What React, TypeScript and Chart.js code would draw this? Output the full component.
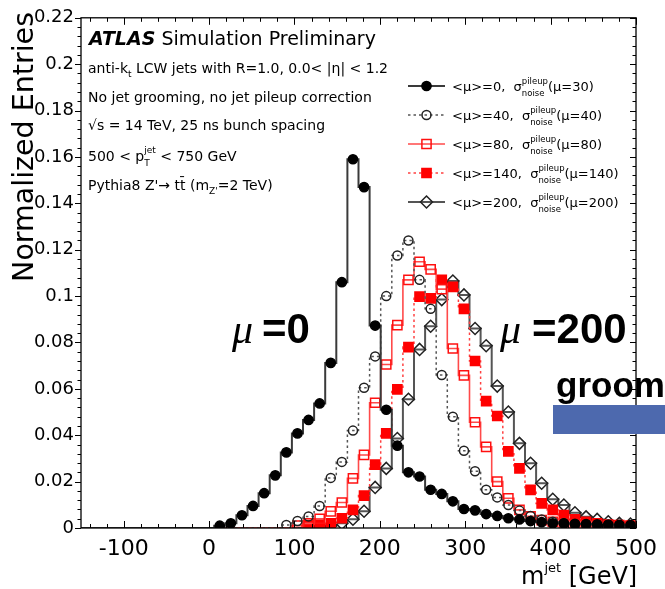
import React, { useEffect, useRef } from "react";
import { Chart, registerables } from "chart.js";

Chart.register(...registerables);

// ---------------- data ----------------
const binCenters = [
  -143.5, -130.5, -117.5, -104.5, -91.5, -78.5, -65.5, -52.5, -39.5, -26.5,
  -13.5, -0.5, 12.5, 25.5, 38.5, 51.5, 64.5, 77.5, 90.5, 103.5,
  116.5, 129.5, 142.5, 155.5, 168.5, 181.5, 194.5, 207.5, 220.5, 233.5,
  246.5, 259.5, 272.5, 285.5, 298.5, 311.5, 324.5, 337.5, 350.5, 363.5,
  376.5, 389.5, 402.5, 415.5, 428.5, 441.5, 454.5, 467.5, 480.5, 493.5,
];
const histLow = -150;
const histHigh = 500;

const mu0 = [
  0, 0, 0, 0, 0, 0, 0, 0, 0, 0,
  0, 0, 0.001, 0.002, 0.0055, 0.0095, 0.015, 0.0227, 0.0326, 0.0408,
  0.0466, 0.0537, 0.0712, 0.106, 0.159, 0.147, 0.0873, 0.051, 0.0355, 0.024,
  0.0222, 0.0165, 0.0147, 0.0115, 0.0082, 0.0076, 0.006, 0.0052, 0.0042, 0.0037,
  0.003, 0.0025, 0.002, 0.002, 0.0018, 0.0017, 0.0016, 0.0015, 0.0014, 0.0013,
];
const mu40 = [
  0, 0, 0, 0, 0, 0, 0, 0, 0, 0,
  0, 0, 0, 0, 0, 0, 0, 0, 0.0013, 0.003,
  0.005, 0.0095, 0.0216, 0.0285, 0.042, 0.0605, 0.074, 0.1, 0.1175, 0.124,
  0.107, 0.0945, 0.066, 0.048, 0.0333, 0.0245, 0.0165, 0.0132, 0.0099, 0.0075,
  0.0052, 0.0037, 0.0027, 0.002, 0.0015, 0.0012, 0.001, 0.0008, 0.0006, 0.0005,
];
const mu80 = [
  0, 0, 0, 0, 0, 0, 0, 0, 0, 0,
  0, 0, 0, 0, 0, 0, 0, 0, 0, 0.001,
  0.002, 0.004, 0.0072, 0.011, 0.0214, 0.0315, 0.054, 0.0705, 0.0875, 0.107,
  0.1148, 0.1115, 0.103, 0.0774, 0.0658, 0.0456, 0.035, 0.02, 0.0128, 0.0078,
  0.005, 0.0034, 0.0027, 0.002, 0.0015, 0.0012, 0.001, 0.0008, 0.0006, 0.0005,
];
const mu140 = [
  0, 0, 0, 0, 0, 0, 0, 0, 0, 0,
  0, 0, 0, 0, 0, 0, 0, 0, 0, 0,
  0.0013, 0.0015, 0.002, 0.0042, 0.0078, 0.014, 0.0273, 0.0408, 0.0598, 0.078,
  0.0998, 0.099, 0.107, 0.104, 0.0945, 0.072, 0.0547, 0.0483, 0.033, 0.0257,
  0.0164, 0.0106, 0.0078, 0.0056, 0.0037, 0.0027, 0.002, 0.0015, 0.0012, 0.001,
];
const mu200 = [
  0, 0, 0, 0, 0, 0, 0, 0, 0, 0,
  0, 0, 0, 0, 0, 0, 0, 0, 0, 0,
  0, 0.0005, 0.001, 0.002, 0.0038, 0.0072, 0.0175, 0.0257, 0.0386, 0.0555,
  0.077, 0.087, 0.0985, 0.1065, 0.1005, 0.086, 0.0786, 0.0612, 0.05, 0.0365,
  0.0279, 0.0193, 0.0124, 0.0099, 0.0066, 0.0048, 0.0037, 0.0027, 0.002, 0.0017,
];

const xTickLabels = ["-100", "0", "100", "200", "300", "400", "500"];
const yTickLabels = ["0", "0.02", "0.04", "0.06", "0.08", "0.1", "0.12", "0.14", "0.16", "0.18", "0.2", "0.22"];

const legendMu = ["<μ>=0,", "<μ>=40,", "<μ>=80,", "<μ>=140,", "<μ>=200,"];
const legendNoise = ["(μ=30)", "(μ=40)", "(μ=80)", "(μ=140)", "(μ=200)"];

const yTitle = "Normalized Entries";
const FONT = "'DejaVu Sans'";

// ---------------- styles ----------------
type SeriesStyle = {
  line: string;
  dash: number[];
  width: number;
  marker: "circle" | "rect" | "rectRot";
  fill: string;
  stroke: string;
  radius: number;
};
const styles: SeriesStyle[] = [
  { line: "#3a3a3a", dash: [], width: 2, marker: "circle", fill: "#000", stroke: "#000", radius: 4.6 },
  { line: "#555", dash: [2.5, 3], width: 1.5, marker: "circle", fill: "rgba(255,255,255,0)", stroke: "#222", radius: 4.5 },
  { line: "#ff4a4a", dash: [], width: 1.6, marker: "rect", fill: "rgba(255,255,255,0)", stroke: "#ff1010", radius: 6.5 },
  { line: "#ff4040", dash: [2.5, 3], width: 1.5, marker: "rect", fill: "#ff0000", stroke: "#ff0000", radius: 6.5 },
  { line: "#555", dash: [], width: 2, marker: "rectRot", fill: "rgba(255,255,255,0)", stroke: "#222", radius: 6 },
];
const seriesValues = [mu0, mu40, mu80, mu140, mu200];

// ---------------- overlay helpers ----------------
type Part = { t: string; size?: number; dy?: number; style?: string; stack?: [string, string] };

function drawRich(ctx: CanvasRenderingContext2D, x: number, y: number, parts: Part[], base: number) {
  let cx = x;
  for (const p of parts) {
    const size = p.size ?? base;
    ctx.font = `${p.style ?? ""} ${size}px ${FONT}`;
    if (p.stack) {
      ctx.fillText(p.stack[0], cx, y - base * 0.55);
      ctx.fillText(p.stack[1], cx, y + base * 0.35);
      cx += Math.max(ctx.measureText(p.stack[0]).width, ctx.measureText(p.stack[1]).width);
    } else {
      ctx.fillText(p.t, cx, y + (p.dy ?? 0));
      cx += ctx.measureText(p.t).width;
    }
  }
  return cx;
}

function drawMarker(ctx: CanvasRenderingContext2D, s: SeriesStyle, x: number, y: number) {
  ctx.save();
  ctx.fillStyle = s.fill;
  ctx.strokeStyle = s.stroke;
  ctx.lineWidth = 1.5;
  ctx.setLineDash([]);
  ctx.beginPath();
  if (s.marker === "circle") {
    ctx.arc(x, y, s.radius, 0, Math.PI * 2);
  } else if (s.marker === "rect") {
    const h = s.radius * Math.SQRT1_2;
    ctx.rect(x - h, y - h, 2 * h, 2 * h);
  } else {
    const r = s.radius;
    ctx.moveTo(x, y - r);
    ctx.lineTo(x + r, y);
    ctx.lineTo(x, y + r);
    ctx.lineTo(x - r, y);
    ctx.closePath();
  }
  ctx.fill();
  ctx.stroke();
  ctx.restore();
}

const overlayPlugin = {
  id: "atlasOverlay",
  afterDraw(chart: any) {
    const ctx: CanvasRenderingContext2D = chart.ctx;
    const { left, right, top, bottom } = chart.chartArea;
    const xs = chart.scales.x;
    const ys = chart.scales.y;
    ctx.save();

    // frame
    ctx.strokeStyle = "#000";
    ctx.lineWidth = 1.3;
    ctx.setLineDash([]);
    ctx.strokeRect(left, top, right - left, bottom - top);

    // ticks
    ctx.lineWidth = 1;
    ctx.beginPath();
    for (let i = 0; i <= 55; i++) {
      const v = i * 0.004;
      const py = Math.round(ys.getPixelForValue(v)) + 0.5;
      const major = i % 5 === 0;
      const L = major ? 6 : 3.5;
      ctx.moveTo(left - L, py);
      ctx.lineTo(left, py);
      ctx.moveTo(right, py);
      ctx.lineTo(right - L, py);
    }
    for (let v = -140; v <= 500; v += 20) {
      const px = Math.round(xs.getPixelForValue(v)) + 0.5;
      const major = v % 100 === 0;
      const L = major ? 7 : 4;
      ctx.moveTo(px, bottom);
      ctx.lineTo(px, bottom - L);
      ctx.moveTo(px, top);
      ctx.lineTo(px, top + L);
    }
    ctx.stroke();

    // y title
    ctx.fillStyle = "#000";
    ctx.save();
    ctx.translate(33, 12);
    ctx.rotate(-Math.PI / 2);
    ctx.font = `28.5px ${FONT}`;
    ctx.textAlign = "right";
    ctx.textBaseline = "alphabetic";
    ctx.fillText(yTitle, 0, 0);
    ctx.restore();

    // x title
    ctx.textAlign = "left";
    ctx.textBaseline = "alphabetic";
    drawRich(ctx, 521, 584, [
      { t: "m", size: 24 },
      { t: "jet", size: 13, dy: -12 },
      { t: " [GeV]", size: 24 },
    ], 24);

    // ATLAS block
    ctx.font = `bold italic 19px ${FONT}`;
    ctx.fillText("ATLAS", 89, 45);
    const aw = ctx.measureText("ATLAS").width;
    ctx.font = `19px ${FONT}`;
    ctx.fillText(" Simulation Preliminary", 89 + aw, 45);

    const b = 14;
    drawRich(ctx, 88, 73, [
      { t: "anti-k" },
      { t: "t", size: 9, dy: 4 },
      { t: " LCW jets with R=1.0, 0.0< |η| < 1.2" },
    ], b);
    drawRich(ctx, 88, 102, [{ t: "No jet grooming, no jet pileup correction" }], b);
    drawRich(ctx, 88, 130, [{ t: "√s = 14 TeV, 25 ns bunch spacing" }], b);
    drawRich(ctx, 88, 161, [
      { t: "500 < p" },
      { t: "", size: 9, stack: ["jet", "T"] },
      { t: " < 750 GeV" },
    ], b);
    drawRich(ctx, 88, 190, [
      { t: "Pythia8 Z'→ tt̄ (m" },
      { t: "Z'", size: 9, dy: 4 },
      { t: "=2 TeV)" },
    ], b);

    // legend
    const legY = [86, 115, 144, 173, 202];
    for (let i = 0; i < 5; i++) {
      const s = styles[i];
      const y = legY[i];
      ctx.save();
      ctx.strokeStyle = s.line;
      ctx.lineWidth = s.width;
      ctx.setLineDash(s.dash);
      ctx.beginPath();
      ctx.moveTo(408, y);
      ctx.lineTo(445, y);
      ctx.stroke();
      ctx.restore();
      drawMarker(ctx, s, 426.5, y);
      ctx.fillStyle = "#000";
      drawRich(ctx, 452, y + 5, [
        { t: legendMu[i] + "  σ" },
        { t: "", size: 8.5, stack: ["pileup", "noise"] },
        { t: legendNoise[i] },
      ], 13);
    }

    // big mu labels
    ctx.fillStyle = "#000";
    ctx.font = `italic 42px 'Liberation Serif'`;
    ctx.fillText("μ", 232, 343);
    ctx.fillText("μ", 500, 343);
    ctx.font = `bold 42px 'Liberation Sans'`;
    ctx.fillText("=0", 262, 343);
    ctx.fillText("=200", 532, 343);

    // groom label + blue bar
    ctx.font = `bold 35px 'Liberation Sans'`;
    ctx.fillText("groom", 556, 397);
    ctx.fillStyle = "#4d69ae";
    ctx.fillRect(553, 405, 665 - 553, 29);

    ctx.restore();
  },
};

export default function App() {
  const ref = useRef<HTMLCanvasElement | null>(null);

  useEffect(() => {
    if (!ref.current) return;
    const datasets = seriesValues.map((vals, i) => {
      const s = styles[i];
      const pts = [{ x: histLow, y: 0 }]
        .concat(binCenters.map((x, k) => ({ x, y: vals[k] })))
        .concat([{ x: histHigh, y: vals[vals.length - 1] }]);
      const radii = [0].concat(vals.map((v) => (v > 0 ? s.radius : 0))).concat([0]);
      return {
        label: legendMu[i],
        data: pts,
        stepped: "middle" as const,
        borderColor: s.line,
        borderWidth: s.width,
        borderDash: s.dash,
        pointStyle: s.marker,
        pointRadius: radii,
        pointBackgroundColor: s.fill,
        pointBorderColor: s.stroke,
        pointBorderWidth: 1.5,
        fill: false,
        tension: 0,
      };
    });

    const chart = new Chart(ref.current, {
      type: "line",
      data: { datasets },
      options: {
        responsive: false,
        animation: false,
        layout: { padding: { top: 17, right: 27, bottom: 0, left: 0 } },
        plugins: {
          legend: { display: false },
          tooltip: { enabled: false },
          title: { display: false },
        },
        scales: {
          x: {
            type: "linear",
            min: histLow,
            max: histHigh,
            ticks: {
              stepSize: 100,
              includeBounds: false,
              autoSkip: false,
              maxRotation: 0,
              padding: 8,
              color: "#000",
              font: { family: "DejaVu Sans", size: 22 },
              callback: (v: any) => {
                const idx = Math.round((Number(v) + 100) / 100);
                return Number(v) % 100 === 0 && idx >= 0 && idx < xTickLabels.length ? xTickLabels[idx] : "";
              },
            },
            grid: { display: false, drawTicks: false },
            border: { display: false },
            afterFit: (s: any) => {
              s.height = 61;
            },
          },
          y: {
            type: "linear",
            min: 0,
            max: 0.22,
            ticks: {
              stepSize: 0.02,
              padding: 7,
              color: "#000",
              font: { family: "DejaVu Sans", size: 18 },
              callback: (v: any) => yTickLabels[Math.round(Number(v) / 0.02)] ?? "",
            },
            grid: { display: false, drawTicks: false },
            border: { display: false },
            afterFit: (s: any) => {
              s.width = 81;
            },
          },
        },
      },
      plugins: [overlayPlugin],
    } as any);
    return () => chart.destroy();
  }, []);

  return (
    <div style={{ position: "fixed", left: 0, top: 0, width: 665, height: 589, background: "#fff" }}>
      <canvas ref={ref} width={665} height={589} style={{ display: "block", width: 665, height: 589 }} />
    </div>
  );
}
